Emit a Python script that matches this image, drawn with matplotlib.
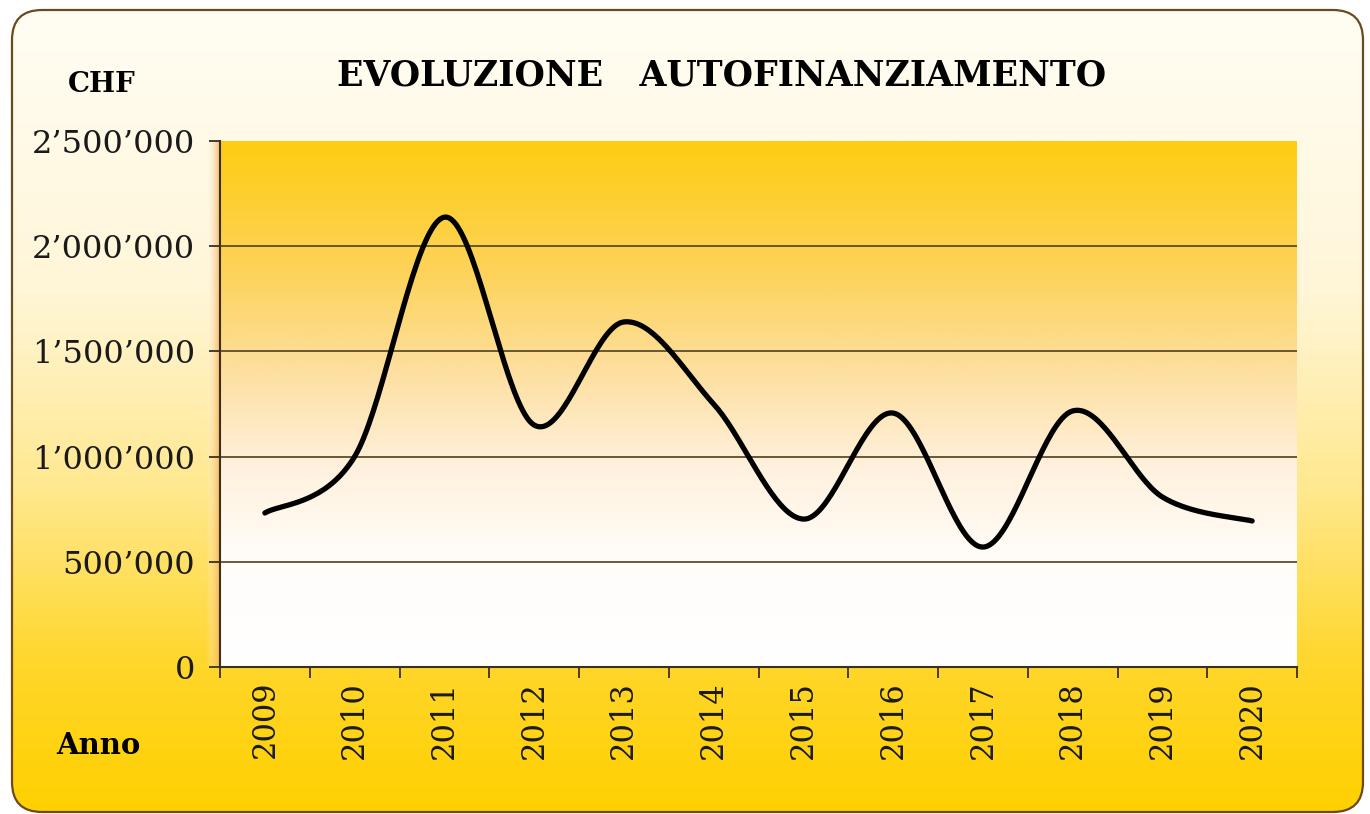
import numpy as np
import matplotlib
matplotlib.use("Agg")
import matplotlib.pyplot as plt
from matplotlib.patches import FancyBboxPatch
from matplotlib.colors import LinearSegmentedColormap
from matplotlib.ticker import FuncFormatter

# Data
years = ["2009", "2010", "2011", "2012", "2013", "2014",
         "2015", "2016", "2017", "2018", "2019", "2020"]
autofin = [732000, 1000000, 2138000, 1150000, 1640000, 1250000,
           703000, 1207000, 570000, 1217000, 808000, 694000]

title = "EVOLUZIONE   AUTOFINANZIAMENTO"
ylabel = "CHF"
xlabel = "Anno"
yticks = [0, 500000, 1000000, 1500000, 2000000, 2500000]


def smooth(xs, ys, n=40):
    # Excel-style smoothed line: cubic Bezier through each pair of points
    P = np.column_stack([xs, ys]).astype(float)
    out = []
    for i in range(len(P) - 1):
        p0 = P[max(i - 1, 0)]
        p1 = P[i]
        p2 = P[i + 1]
        p3 = P[min(i + 2, len(P) - 1)]
        c1 = p1 + (p2 - p0) / 6
        c2 = p2 - (p3 - p1) / 6
        t = np.linspace(0, 1, n)[:, None]
        seg = ((1 - t) ** 3) * p1 + 3 * ((1 - t) ** 2) * t * c1 + 3 * (1 - t) * t ** 2 * c2 + t ** 3 * p2
        out.append(seg if i == 0 else seg[1:])
    out = np.vstack(out)
    return out[:, 0], out[:, 1]


W, H = 1370, 814
fig = plt.figure(figsize=(W / 100, H / 100), dpi=100)
fig.patch.set_facecolor("white")

# background frame with gradient
bg = fig.add_axes([0, 0, 1, 1])
bg.set_xlim(0, W)
bg.set_ylim(H, 0)
bg.axis("off")
frame_cmap = LinearSegmentedColormap.from_list(
    "frame", [(0.0, "#fffdf4"), (0.35, "#fff6d8"), (0.6, "#ffe88e"), (0.82, "#ffd62a"), (1.0, "#ffd000")])
grad = np.linspace(0, 1, 256)[:, None] * np.ones((1, 4))
img = bg.imshow(grad, cmap=frame_cmap, extent=[12, 1363, 812, 10], aspect="auto", zorder=1)
frame = FancyBboxPatch((12 + 30, 10 + 30), 1351 - 60, 802 - 60,
                       boxstyle="round,pad=30", facecolor="none",
                       edgecolor="#6b4a1e", linewidth=1.6, zorder=3)
bg.add_patch(frame)
img.set_clip_path(frame)

# soft orange shadow along the left edge of the plot area
shade = LinearSegmentedColormap.from_list("shade", ["#ffffff00", "#f7a94a"])
bg.imshow(np.linspace(0, 1, 64)[None, :], cmap=shade, extent=[206, 220, 667, 141],
          aspect="auto", zorder=2, alpha=0.8)

# plot area
ax = fig.add_axes([220 / W, 1 - 667 / H, 1077 / W, 526 / H])
ax.set_xlim(-0.5, len(years) - 0.5)
ax.set_ylim(0, 2500000)
ax.patch.set_visible(False)
plot_cmap = LinearSegmentedColormap.from_list(
    "plot", [(0.0, "#ffcc12"), (0.25, "#fdd35a"), (0.45, "#fde0a4"), (0.62, "#fff1dd"), (0.8, "#fffdfa"), (1.0, "#ffffff")])
ax.imshow(np.linspace(0, 1, 256)[:, None], cmap=plot_cmap,
          extent=[-0.5, len(years) - 0.5, 0, 2500000], aspect="auto", zorder=0, origin="upper")

for v in yticks[1:-1]:
    ax.axhline(v, color="#5a4e2a", linewidth=1.3, zorder=1)

sx, sy = smooth(np.arange(len(years)), autofin)
ax.plot(sx, sy, color="black", linewidth=3.8, solid_capstyle="round", zorder=3)

ax.set_yticks(yticks)
ax.yaxis.set_major_formatter(FuncFormatter(lambda v, p: f"{int(v):,}".replace(",", "\u2019")))
ax.set_xticks(np.arange(len(years)))
ax.set_xticklabels(years, rotation=90)
ax.set_xticks(np.arange(len(years) + 1) - 0.5, minor=True)
ax.tick_params(axis="x", which="major", length=0, pad=10, labelsize=22)
ax.tick_params(axis="x", which="minor", length=8, width=1.3, color="#3a3020")
ax.tick_params(axis="y", length=8, width=1.3, color="#3a3020", pad=10, labelsize=23)
for lab in ax.get_xticklabels() + ax.get_yticklabels():
    lab.set_family("DejaVu Serif")
    lab.set_color("#1a1a1a")

for s in ["top", "right"]:
    ax.spines[s].set_visible(False)
for s in ["left", "bottom"]:
    ax.spines[s].set_color("#3a3020")
    ax.spines[s].set_linewidth(1.5)

fig.text(722 / W, 1 - 76 / H, title, ha="center", va="center",
         fontsize=25, fontweight="bold", family="DejaVu Serif")
fig.text(102 / W, 1 - 85 / H, ylabel, ha="center", va="center",
         fontsize=20, fontweight="bold", family="DejaVu Serif")
fig.text(98 / W, 1 - 746 / H, xlabel, ha="center", va="center",
         fontsize=21, fontweight="bold", family="DejaVu Serif")

fig.savefig("out.png", dpi=100)
